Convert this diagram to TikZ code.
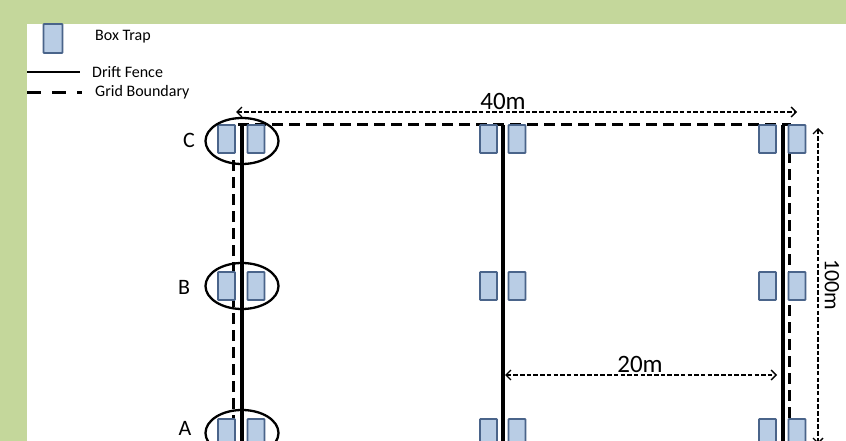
\documentclass[tikz,border=0pt]{standalone}
\usepackage{fontspec}
\setmainfont{Carlito}
\usetikzlibrary{arrows.meta,shapes.geometric}
\definecolor{bggreen}{RGB}{196,215,155}
\definecolor{trapfill}{RGB}{185,205,229}
\definecolor{trapedge}{RGB}{74,100,138}

\begin{document}
\begin{tikzpicture}[x=1pt,y=-1pt,
  trap/.style={draw=trapedge, fill=trapfill, line width=1.9pt, rounded corners=0.8pt,
    minimum width=17pt, minimum height=28pt, inner sep=0pt},
  fence/.style={line width=3.4pt},
  boundary/.style={line width=3pt, dash pattern=on 11pt off 6pt},
  station/.style={draw, ellipse, line width=2.3pt, minimum width=73pt,
    minimum height=46pt, inner sep=0pt},
  dimline/.style={line width=1.3pt, dash pattern=on 4.5pt off 2.2pt,
    {Straight Barb[length=5pt,width=10pt,line width=1.4pt]}-{Straight Barb[length=5pt,width=10pt,line width=1.4pt]}},
  rowlabel/.style={font=\fontsize{22}{22}\selectfont, inner sep=0pt},
  dimlabel/.style={font=\fontsize{25}{25}\selectfont, inner sep=0pt},
  legendtext/.style={font=\fontsize{16}{16}\selectfont, inner sep=0pt, anchor=west}]

\clip (0,0) rectangle (846,441);

% page background and frame
\fill[bggreen] (0,0) rectangle (846,441);
\fill[white] (27,24) rectangle (846,441);

% legend
\node[trap, minimum width=19pt, minimum height=29pt] (legtrap) at (53,38.5) {};
\node[legendtext] (legtraptext) at (95,37) {Box Trap};
\coordinate (legfenceA) at (27,72);
\coordinate (legfenceB) at (80,72);
\draw[line width=2.8pt] (legfenceA) -- (legfenceB);
\node[legendtext] (legfencetext) at (92,72) {Drift Fence};
\coordinate (legbndA) at (27,93);
\coordinate (legbndB) at (82,93);
\draw[line width=3pt, dash pattern=on 14pt off 11pt] (legbndA) -- (legbndB);
\node[legendtext] (legbndtext) at (95,92) {Grid Boundary};

% grid corners and fence ends
\coordinate (gridBL) at (233,460);
\coordinate (gridTL) at (233,125);
\coordinate (gridTR) at (789,125);
\coordinate (gridBR) at (789,460);
\coordinate (fenceOneTop) at (242,125);
\coordinate (fenceOneEnd) at (242,460);
\coordinate (fenceTwoTop) at (503,125);
\coordinate (fenceTwoEnd) at (503,460);
\coordinate (fenceThreeTop) at (783,125);
\coordinate (fenceThreeEnd) at (783,460);

% grid boundary
\draw[boundary] (gridBL) -- (gridTL) -- (gridTR) -- (gridBR);

% drift fences
\draw[fence] (fenceOneTop) -- (fenceOneEnd);
\draw[fence] (fenceTwoTop) -- (fenceTwoEnd);
\draw[fence] (fenceThreeTop) -- (fenceThreeEnd);

% dimensions
\coordinate (dimTopL) at (236,112);
\coordinate (dimTopR) at (797,112);
\draw[dimline] (dimTopL) -- (dimTopR);
\node[dimlabel] (lenlabel) at (503,101) {40m};

\coordinate (dimMidL) at (505,375);
\coordinate (dimMidR) at (777,375);
\draw[dimline] (dimMidL) -- (dimMidR);
\node[dimlabel] (spacinglabel) at (640,364) {20m};

\coordinate (dimSideT) at (818,128);
\coordinate (dimSideB) at (818,444);
\draw[dimline] (dimSideT) -- (dimSideB);
\node[dimlabel, font=\fontsize{22}{22}\selectfont, rotate=-90] (heightlabel) at (832,285) {100m};

% box traps: rows C, B, A
\foreach \r/\y in {C/139, B/286, A/433} {
  \node[trap] (t1\r) at (226.5,\y) {};
  \node[trap] (u1\r) at (256,\y) {};
  \node[trap] (t2\r) at (488.5,\y) {};
  \node[trap] (u2\r) at (517,\y) {};
  \node[trap] (t3\r) at (767.5,\y) {};
  \node[trap] (u3\r) at (797,\y) {};
}

% trap stations on the first fence
\node[station] (stC) at (242,141) {};
\node[station] (stB) at (242,286) {};
\node[station] (stA) at (242,433) {};

\node[rowlabel] (labC) at (189,140) {C};
\node[rowlabel] (labB) at (184,287) {B};
\node[rowlabel] (labA) at (185,428) {A};
\end{tikzpicture}
\end{document}
